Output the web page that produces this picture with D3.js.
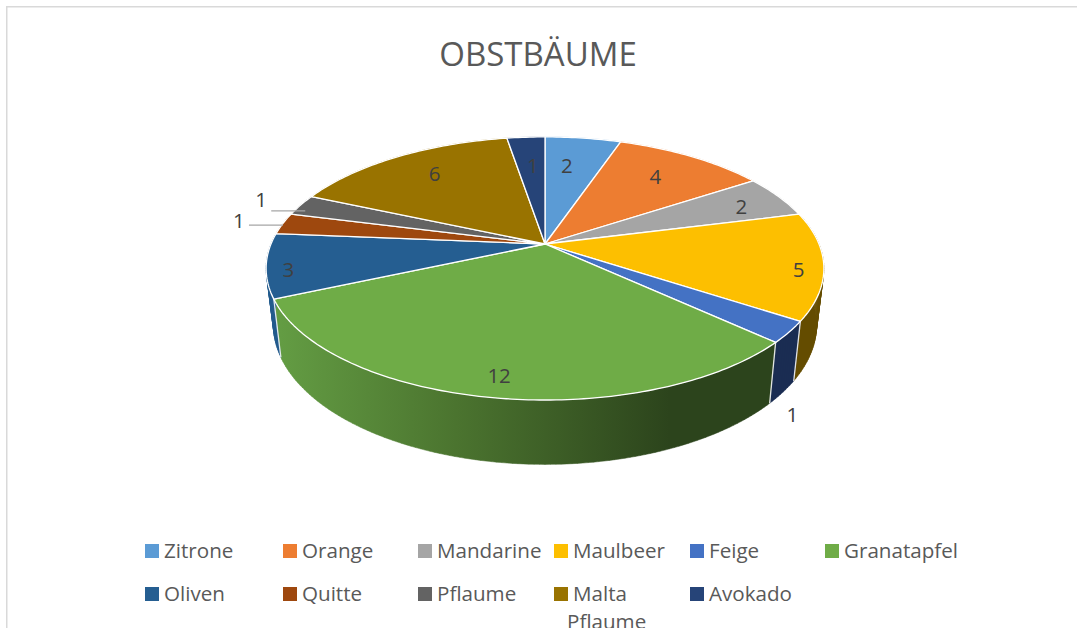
<!DOCTYPE html>
<html><head><meta charset="utf-8">
<script src="https://cdn.jsdelivr.net/npm/d3@7/dist/d3.min.js"></script>
<style>html,body{margin:0;padding:0;background:#fff;overflow:hidden}svg{display:block}text{font-family:"Open Sans","Noto Sans",sans-serif}</style>
</head><body><svg id="c" width="1077" height="628"></svg>
<script>
const title = "OBSTBÄUME";
const categories = ["Zitrone","Orange","Mandarine","Maulbeer","Feige","Granatapfel","Oliven","Quitte","Pflaume","Malta Pflaume","Avokado"];
const values = [2,4,2,5,1,12,3,1,1,6,1];
const topColors = ["#5b9bd5","#ed7d31","#a5a5a5","#fdbf00","#4472c4","#6fac47","#255e91","#9e480e","#636363","#997300","#264478"];
const wallColors = ["#5b9bd5","#ed7d31","#a5a5a5","#644c00","#1a2d52","url(#g)","#235a8d","#9e480e","#636363","#997300","#264478"];
// layout
const cx=545, cy=244, A=274, B=127, K=0.186, sx=0.974, sy=1.06, dy=55;
const labelNudge=[[-9.5,9],[-10,4],[7,1.5],[32,8],[57,102],[-3.6,14.6],[-35,8],[-95,-6.6],[-86,-12.6],[10,1],[3.6,10]];
const leaders={7:4,8:11};
const legendX=[145,283,418,554,690,825], legendY=[551,594];
const legendTextDx=19;

const svg=d3.select("#c");
const defs=svg.append("defs");
const grad=defs.append("linearGradient").attr("id","g").attr("gradientUnits","userSpaceOnUse")
  .attr("x1",280).attr("x2",670).attr("y1",0).attr("y2",0);
grad.append("stop").attr("offset",0).attr("stop-color","#639c43");
grad.append("stop").attr("offset",0.45).attr("stop-color","#4b742f");
grad.append("stop").attr("offset",1).attr("stop-color","#2c441c");

svg.append("path").attr("d","M6.75,628V6.75H1077").attr("fill","none").attr("stroke","#d9d9d9").attr("stroke-width",1.5);
svg.append("text").attr("x",538).attr("y",54).attr("dy","0.36em").attr("text-anchor","middle")
  .attr("font-size",33).attr("fill","#595959").text(title);

function proj(a,f=1){const u=Math.sin(a),v=-Math.cos(a),d=1-K*f*v;return [cx+A*f*u/d,cy+B*f*v/d];}
function low(p){return [cx+(p[0]-cx)*sx,cy+(p[1]-cy)*sy+dy];}
const arcs=d3.pie().sort(null).value(d=>d)(values);
const line=d3.line();
function samples(a0,a1){const n=Math.max(4,Math.ceil((a1-a0)*60));return d3.range(n+1).map(i=>a0+(a1-a0)*i/n);}

// walls: one strip of quads per slice, so the silhouette joins the two rims
const wallG=svg.append("g");
arcs.forEach((s,i)=>{
  const t=samples(s.startAngle,s.endAngle).map(a=>proj(a));
  const strip=d3.range(t.length-1).map(j=>line([t[j],t[j+1],low(t[j+1]),low(t[j])])+"Z").join("");
  wallG.append("path").attr("d",strip).attr("fill",wallColors[i]).attr("stroke",wallColors[i]).attr("stroke-width",.5);
});
arcs.forEach((s,i)=>{
  const p=proj(s.startAngle);
  wallG.append("path").attr("d",line([p,low(p)])).attr("stroke","#fff").attr("stroke-width",1.3).attr("opacity",.85);
});
// tops
const topG=svg.append("g");
arcs.forEach((s,i)=>{
  const t=samples(s.startAngle,s.endAngle).map(a=>proj(a));
  topG.append("path").attr("d",line([[cx,cy]].concat(t))+"Z").attr("fill",topColors[i])
    .attr("stroke","#fff").attr("stroke-width",1.3).attr("stroke-linejoin","round");
});
// labels
arcs.forEach((s,i)=>{
  const p=proj((s.startAngle+s.endAngle)/2,0.8), x=p[0]+labelNudge[i][0], y=p[1]+labelNudge[i][1];
  if(leaders[i]!==undefined) svg.append("path").attr("d",line([[x+10,y+leaders[i]],[x+44,y+leaders[i]]]))
    .attr("stroke","#a6a6a6").attr("stroke-width",1.3).attr("fill","none");
  svg.append("text").attr("x",x).attr("y",y).attr("dy","0.36em").attr("text-anchor","middle")
    .attr("font-size",20.5).attr("fill","#404040").text(values[i]);
});
// legend
categories.forEach((c,i)=>{
  const col=i%6,row=Math.floor(i/6),x=legendX[col],y=legendY[row];
  svg.append("rect").attr("x",x).attr("y",y-7).attr("width",14).attr("height",14).attr("fill",topColors[i]);
  const parts=c.split(" ");
  parts.forEach((w,j)=>svg.append("text").attr("x",x+legendTextDx+(j?-6:0)).attr("y",y+j*28).attr("dy","0.36em")
    .attr("font-size",20.6).attr("fill","#595959").text(w));
});
</script></body></html>
